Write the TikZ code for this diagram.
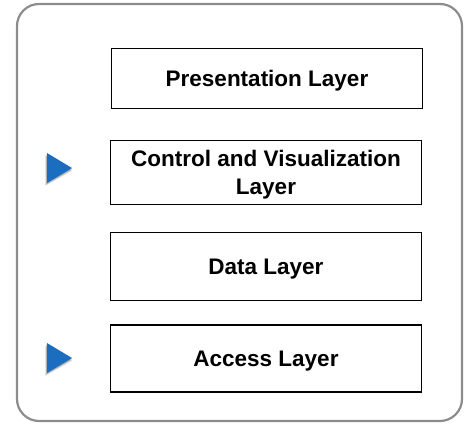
\documentclass[tikz,border=0pt]{standalone}
\usepackage{fontspec}
\setmainfont{Liberation Sans}
\usetikzlibrary{positioning}
\definecolor{framegray}{HTML}{8C8C8C}
\definecolor{markblue}{HTML}{1A6DBF}
\tikzset{
  layerbox/.style={draw=black, line width=1.8pt, fill=white, minimum width=311pt,
    inner sep=0pt, align=center, font=\fontsize{22.5}{28}\selectfont\bfseries,
    text height=16.1pt, text depth=0pt},
  marker/.style={fill=markblue, draw=none},
  markershadow/.style={fill=black, draw=none, opacity=0.07}
}
\begin{document}
\begin{tikzpicture}[x=1pt,y=-1pt]
  \useasboundingbox (0,0) rectangle (467,426);
  % outer frame
  \draw[framegray, line width=2.2pt, rounded corners=22pt] (17,4) rectangle (462,421);
  % stacked layers (labels centred on their capital height)
  \node[layerbox, minimum height=60pt] (pres) at (267,78.5) {Presentation Layer};
  \node[layerbox, minimum height=64pt, text height=44.1pt] (ctrl) at (266,172.5) {Control and Visualization\\Layer};
  \node[layerbox, minimum height=68pt] (data) at (266,266.5) {Data Layer};
  \node[layerbox, minimum height=67pt] (acc) at (266,358.5) {Access Layer};
  % blue pointers with soft shadow
  \foreach \yc in {168,358} {
    \foreach \d in {0.5,1,1.5,2,2.5,3} {
      \fill[markershadow] (47-\d*0.6,\yc-15+\d) -- (72,\yc+\d) -- (47-\d*0.6,\yc+15+\d) -- cycle;
    }
    \fill[marker] (47,\yc-15) -- (72,\yc) -- (47,\yc+15) -- cycle;
  }
\end{tikzpicture}
\end{document}
